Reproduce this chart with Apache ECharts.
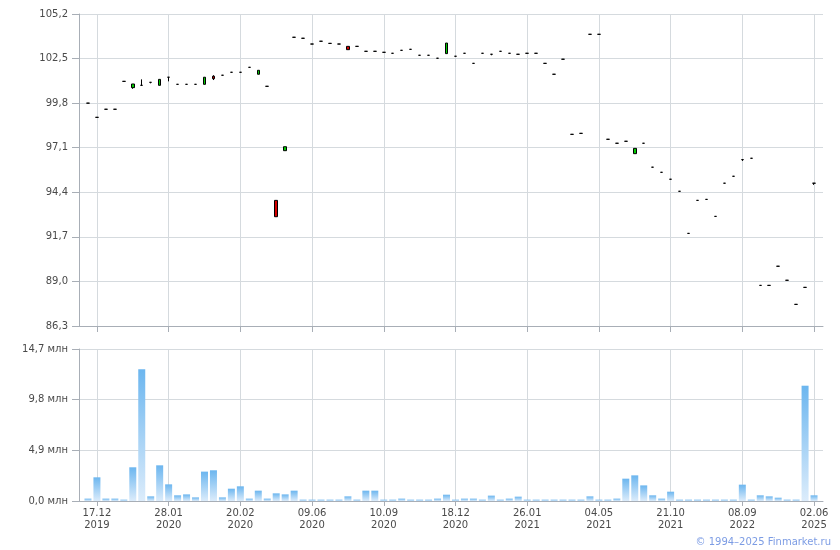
<!DOCTYPE html>
<html><head><meta charset="utf-8">
<script src="https://cdn.jsdelivr.net/npm/echarts@6/dist/echarts.min.js"></script>
<style>html,body{margin:0;padding:0;background:#fff}#c{width:840px;height:550px}</style>
</head><body><div id="c"></div>
<script>
// Price data (open, close, low, high) per trading session
const open  = [99.8,98.94,99.43,99.43,101.12,100.74,100.88,101.06,100.88,101.37,100.94,100.94,100.94,100.94,101.43,101.49,101.67,101.67,101.97,101.55,100.82,93.91,96.92,103.79,103.73,103.38,103.55,103.42,103.38,103.24,103.24,102.94,102.94,102.88,102.82,103.0,103.06,102.7,102.7,102.52,102.8,102.64,102.82,102.21,102.82,102.76,102.94,102.82,102.76,102.82,102.82,102.21,101.55,102.46,97.91,97.97,103.97,103.97,97.61,97.37,97.49,96.74,97.37,95.92,95.61,95.19,94.46,91.91,93.91,93.97,92.94,94.95,95.37,96.38,96.46,88.76,88.76,89.92,89.07,87.61,88.64,94.95];
const close = [99.8,98.94,99.43,99.43,101.12,100.96,100.88,101.06,101.24,101.37,100.94,100.94,100.94,101.37,101.28,101.49,101.67,101.67,101.97,101.79,100.82,92.92,97.16,103.79,103.73,103.38,103.55,103.42,103.38,103.04,103.24,102.94,102.94,102.88,102.82,103.0,103.06,102.7,102.7,102.52,103.44,102.64,102.82,102.21,102.82,102.76,102.94,102.82,102.76,102.82,102.82,102.21,101.55,102.46,97.91,97.97,103.97,103.97,97.61,97.37,97.49,97.06,97.37,95.92,95.61,95.19,94.46,91.91,93.91,93.97,92.94,94.95,95.37,96.38,96.46,88.76,88.76,89.92,89.07,87.61,88.64,94.95];
const low   = [99.8,98.94,99.43,99.43,101.12,100.67,100.88,101.0,100.88,101.12,100.94,100.94,100.94,100.94,101.2,101.49,101.67,101.67,101.97,101.55,100.82,92.92,96.92,103.79,103.73,103.38,103.55,103.42,103.38,103.04,103.24,102.94,102.94,102.88,102.82,103.0,103.06,102.7,102.7,102.52,102.8,102.64,102.82,102.21,102.82,102.7,102.94,102.82,102.76,102.82,102.82,102.21,101.55,102.46,97.91,97.97,103.97,103.97,97.61,97.37,97.49,96.74,97.37,95.92,95.61,95.19,94.46,91.91,93.91,93.97,92.94,94.95,95.37,96.3,96.46,88.76,88.76,89.92,89.07,87.61,88.64,94.85];
const high  = [99.8,98.94,99.43,99.43,101.12,100.96,101.24,101.06,101.24,101.37,100.94,100.94,100.94,101.37,101.49,101.49,101.67,101.67,101.97,101.79,100.82,93.91,97.16,103.79,103.73,103.38,103.55,103.42,103.38,103.24,103.24,102.94,102.94,102.88,102.82,103.0,103.06,102.7,102.7,102.52,103.44,102.64,102.82,102.21,102.82,102.76,102.94,102.82,102.76,102.82,102.82,102.21,101.55,102.46,97.91,97.97,103.97,103.97,97.61,97.37,97.49,97.06,97.37,95.92,95.61,95.19,94.46,91.91,93.91,93.97,92.94,94.95,95.37,96.38,96.46,88.76,88.76,89.92,89.07,87.61,88.64,94.95];
// Volume, millions
const volume = [0.23,2.29,0.23,0.23,0.13,3.26,12.74,0.45,3.45,1.61,0.55,0.64,0.35,2.84,2.97,0.35,1.19,1.42,0.23,1.0,0.23,0.74,0.64,1.0,
  0.13,0.13,0.13,0.13,0.13,0.45,0.13,1.0,1.0,0.13,0.13,0.23,0.13,0.13,0.13,0.23,0.61,0.13,0.23,0.23,0.13,0.52,0.13,0.23,0.42,0.13,0.13,0.13,0.13,0.13,
  0.13,0.13,0.45,0.13,0.13,0.23,2.16,2.48,1.51,0.55,0.23,0.9,0.13,0.13,0.13,0.13,0.13,0.13,0.13,1.58,0.13,0.55,0.45,0.32,0.13,0.13,11.15,0.55];
// Date labels at session indices
const tickIdx = [1,9,17,25,33,41,49,57,65,73,81];
const tickLabels = ['17.12\n2019','28.01\n2020','20.02\n2020','09.06\n2020','10.09\n2020','18.12\n2020','26.01\n2021','04.05\n2021','21.10\n2021','08.09\n2022','02.06\n2025'];
const priceTicks = [86.3,89.0,91.7,94.4,97.1,99.8,102.5,105.2];

const FONT = 'DejaVu Sans';
const gridColor = '#d5dade';
const axisColor = '#a8aeb6';
const textColor = '#4a4a4a';

// one empty slot at each end so sessions sit a full step inside the frame
const slots = ['s'].concat(open.map((_, i) => 'd' + i), ['e']);
const labelAt = {};
tickIdx.forEach((k, j) => { labelAt[k + 1] = tickLabels[j]; });
const isTick = (idx) => labelAt[idx] !== undefined;

const EMPTY = ['-', '-', '-', '-'];
const candleData = [EMPTY].concat(open.map((o, i) => [o, close[i], low[i], high[i]]), [EMPTY]);
const volData = ['-'].concat(volume, ['-']);

const chart = echarts.init(document.getElementById('c'), null, {renderer: 'canvas'});
const xBase = (gi, showLabel) => ({
  type: 'category', gridIndex: gi, data: slots, boundaryGap: false,
  axisLine: {show: true, lineStyle: {color: axisColor}},
  axisTick: {show: true, interval: isTick, length: gi === 0 ? 6 : 5, lineStyle: {color: axisColor}},
  splitLine: {show: true, interval: isTick, lineStyle: {color: gridColor}},
  axisLabel: {show: showLabel, interval: isTick, formatter: (v, idx) => labelAt[idx] || '',
    color: textColor, fontFamily: FONT, fontSize: 10, lineHeight: 12, margin: 6}
});
chart.setOption({
  animation: false,
  backgroundColor: '#fff',
  grid: [
    {left: 79, top: 14, width: 744, height: 312},
    {left: 79, top: 349, width: 744, height: 152}
  ],
  xAxis: [xBase(0, false), xBase(1, true)],
  yAxis: [
    {type: 'value', gridIndex: 0, min: 86.3, max: 105.2, scale: true,
      axisLine: {show: true, lineStyle: {color: axisColor}},
      axisTick: {show: true, length: 7, customValues: priceTicks, lineStyle: {color: axisColor}},
      axisLabel: {customValues: priceTicks, formatter: v => v.toFixed(1).replace('.', ','),
        color: textColor, fontFamily: FONT, fontSize: 10, margin: 11},
      splitLine: {show: true, lineStyle: {color: gridColor}}
    },
    {type: 'value', gridIndex: 1, min: 0, max: 14.7, interval: 4.9,
      axisLine: {show: true, lineStyle: {color: axisColor}},
      axisTick: {show: true, length: 7, lineStyle: {color: axisColor}},
      axisLabel: {formatter: v => v.toFixed(1).replace('.', ',') + ' млн',
        color: textColor, fontFamily: FONT, fontSize: 10, margin: 11},
      splitLine: {show: true, lineStyle: {color: gridColor}}
    }
  ],
  series: [
    {type: 'candlestick', xAxisIndex: 0, yAxisIndex: 0, data: candleData, barWidth: 3,
      itemStyle: {color: '#00cc00', color0: '#d40000', borderColor: '#000', borderColor0: '#000',
        borderColorDoji: '#000', borderWidth: 1}
    },
    {type: 'bar', xAxisIndex: 1, yAxisIndex: 1, data: volData, barWidth: 7,
      itemStyle: {color: new echarts.graphic.LinearGradient(0, 0, 0, 1, [
        {offset: 0, color: '#6cb6ef'}, {offset: 1, color: '#dcecfb'}])}
    }
  ],
  graphic: [{type: 'text', right: 9, bottom: 3,
    style: {text: '© 1994–2025 Finmarket.ru', fill: '#7c9ce4', font: '10px "DejaVu Sans"'}}]
});
</script></body></html>
